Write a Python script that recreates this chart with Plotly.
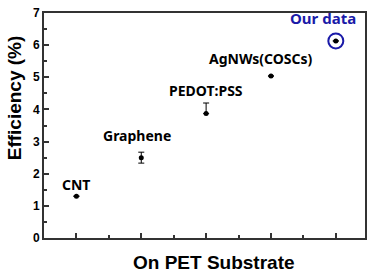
import plotly.graph_objects as go

categories = ["CNT", "Graphene", "PEDOT:PSS", "AgNWs(COSCs)", "Our data"]
x_pos = [1, 2, 3, 4, 5]
efficiency = [1.3, 2.5, 3.87, 5.04, 6.13]
err_plus = [0, 0.17, 0.33, 0, 0]
err_minus = [0, 0.17, 0, 0, 0]
label_y = [1.65, 3.18, 4.6, 5.57, 6.86]
label_x = [1.0, 1.93, 3.0, 3.85, 4.8]

fig = go.Figure()
fig.add_trace(go.Scatter(
    x=x_pos, y=efficiency, mode="markers",
    marker=dict(color="black", size=5),
    error_y=dict(type="data", array=err_plus, arrayminus=err_minus,
                 color="black", thickness=1, width=3),
    showlegend=False))
# circle around "Our data"
fig.add_trace(go.Scatter(
    x=[x_pos[-1]], y=[efficiency[-1]], mode="markers",
    marker=dict(symbol="circle-open", size=15, color="#1a1aa8",
                line=dict(width=2, color="#1a1aa8")),
    showlegend=False))

for i, c in enumerate(categories):
    fig.add_annotation(x=label_x[i], y=label_y[i], text=c, showarrow=False,
                       font=dict(family="Noto Sans", size=15 if i == 4 else 14,
                                 color="#1a1aa8" if i == 4 else "black",
                                 weight="bold"))

fig.add_annotation(xref="paper", yref="paper", x=-0.13, y=0.5, yshift=28,
                   text="Efficiency (%)", textangle=-90, showarrow=False,
                   font=dict(family="Liberation Sans", size=19, color="black", weight="bold"))
fig.add_annotation(xref="paper", yref="paper", x=0.53, y=-0.107,
                   text="On PET Substrate", showarrow=False, yanchor="middle",
                   font=dict(family="Liberation Sans", size=19, color="black", weight="bold"))

axcol = "#333333"
fig.update_xaxes(range=[0.5, 5.45], showgrid=False, zeroline=False,
                 showline=True, linewidth=2, linecolor=axcol, mirror=True,
                 ticks="inside", tickvals=x_pos, ticklen=5, tickwidth=1.5, tickcolor=axcol,
                 showticklabels=False,
                 minor=dict(ticks="inside", tickvals=[1.5, 2.5, 3.5, 4.5],
                            ticklen=3, tickwidth=1.5, tickcolor=axcol))
fig.update_yaxes(range=[0, 7], showgrid=False, zeroline=False,
                 showline=True, linewidth=2, linecolor=axcol, mirror=True,
                 ticks="inside", tickvals=list(range(8)), ticklen=5, tickwidth=1.5,
                 tickcolor=axcol,
                 tickfont=dict(family="Liberation Sans", size=12, color="black", weight="bold"),
                 minor=dict(ticks="inside", dtick=0.5, ticklen=3, tickwidth=1.5, tickcolor=axcol))

fig.update_layout(width=373, height=275, margin=dict(l=44, r=8, t=6, b=37),
                  plot_bgcolor="white", paper_bgcolor="white")
fig.write_html("out.html")
